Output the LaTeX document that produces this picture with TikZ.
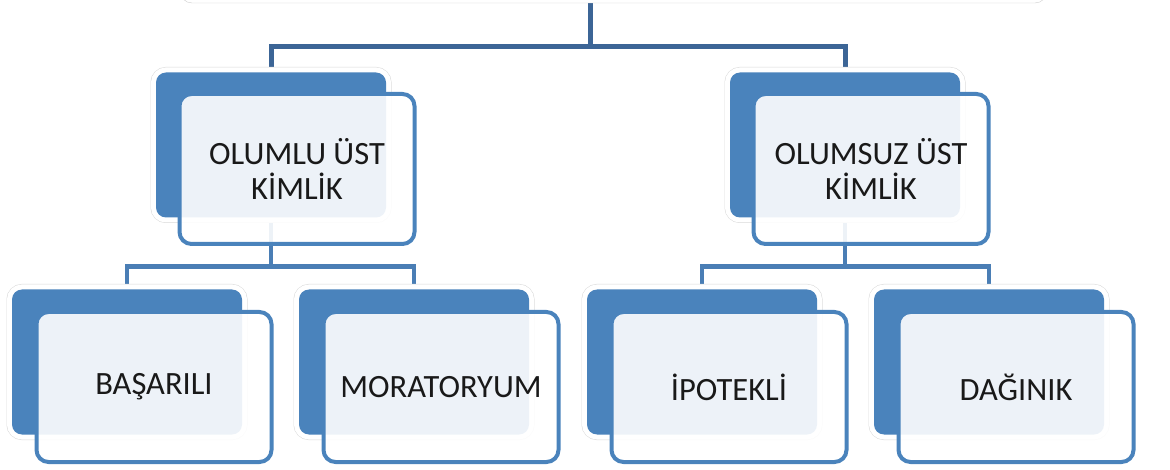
\documentclass[tikz,border=0pt]{standalone}
\usepackage{fontspec}
\setmainfont{Carlito}
\usetikzlibrary{backgrounds}
\definecolor{boxblue}{RGB}{74,131,188}
\definecolor{linkblue}{RGB}{74,126,181}
\definecolor{rootblue}{RGB}{60,101,150}
\newcommand{\boxFont}[0]{\fontsize{32.5}{35}\selectfont}

\begin{document}
\begin{tikzpicture}[x=1pt,y=-1pt]
  \tikzset{back/.style={rectangle,minimum width=230pt,minimum height=145pt,rounded corners=10pt,fill=boxblue,
      preaction={draw=black!15,line width=11pt},preaction={draw=white,line width=10pt}},
    front/.style={rectangle,minimum width=235pt,minimum height=150pt,rounded corners=12pt,draw=boxblue,
      line width=4pt,fill=white,fill opacity=0.9,text opacity=1,text=black!90,align=center,font=\boxFont},
    link/.style={draw=linkblue,line width=4.5pt},
    toplink/.style={link,draw=rootblue,line width=5pt}}
  \useasboundingbox (0,0) rectangle (1170,470);
  \node[rectangle,draw=black!20,fill=white,rounded corners=12pt,minimum width=867pt,minimum height=50pt](root) at (613.5,-22){};
  \node[back](olumlu-b) at (271,145){};
  \node[front](olumlu) at (297,169){OLUMLU ÜST\\KİMLİK};
  \node[back](olumsuz-b) at (845,145){};
  \node[front](olumsuz) at (871,169){OLUMSUZ ÜST\\KİMLİK};
  \node[back](basarili-b) at (127,362){};
  \node[front](basarili) at (154,387){BAŞARILI};
  \node[back](moratoryum-b) at (414,362){};
  \node[front](moratoryum) at (441,387){MORATORYUM};
  \node[back](ipotekli-b) at (702,362){};
  \node[front](ipotekli) at (729,387){İPOTEKLİ};
  \node[back](daginik-b) at (989,362){};
  \node[front](daginik) at (1016,387){DAĞINIK};
  \begin{scope}[on background layer]
    \coordinate(hub) at (590,47);
    \draw[toplink] (root.south -| hub) -- (hub) -| (olumlu-b.north);
    \draw[toplink] (hub) -| (olumsuz-b.north);
    \draw[link] (olumlu-b.south) -- ++(0,49) -| (basarili-b.north);
    \draw[link] (olumlu-b.south) -- ++(0,49) -| (moratoryum-b.north);
    \draw[link] (olumsuz-b.south) -- ++(0,49) -| (ipotekli-b.north);
    \draw[link] (olumsuz-b.south) -- ++(0,49) -| (daginik-b.north);
  \end{scope}
\end{tikzpicture}
\end{document}
